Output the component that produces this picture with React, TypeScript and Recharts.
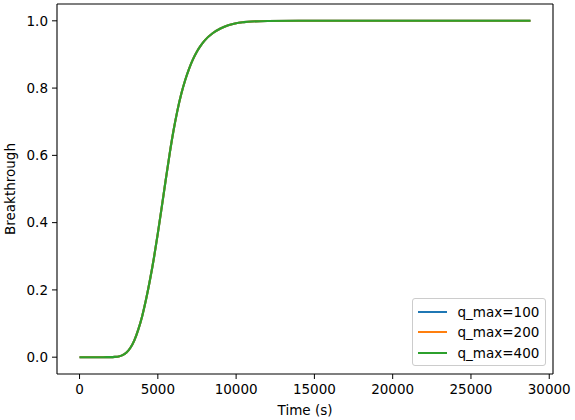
import React from 'react';
import { LineChart, Line, XAxis, YAxis, Label } from 'recharts';

// Time samples (s)
const times = [
  0, 500, 1000, 1500, 2000, 2250, 2500, 2750, 3000, 3250, 3500, 3750, 4000, 4250, 4500, 4750,
  5000, 5250, 5500, 5750, 6000, 6250, 6500, 6750, 7000, 7250, 7500, 7750, 8000, 8500, 9000,
  9500, 10000, 10500, 11000, 12000, 14000, 16000, 18000, 20000, 22000, 24000, 26000, 28000, 28800,
];

// Breakthrough; the three runs overlap completely
const q100 = [
  0, 0, 0, 0, 0.0002, 0.0008, 0.002, 0.006, 0.014, 0.028, 0.05, 0.082, 0.122, 0.172, 0.23, 0.295,
  0.368, 0.446, 0.526, 0.603, 0.673, 0.733, 0.783, 0.824, 0.858, 0.886, 0.909, 0.927, 0.942, 0.963, 0.977,
  0.987, 0.993, 0.996, 0.998, 0.9995, 1, 1, 1, 1, 1, 1, 1, 1, 1,
];
const q200 = [...q100];
const q400 = [...q100];

const xTicks = [0, 5000, 10000, 15000, 20000, 25000, 30000];
const yTicks = [0, 0.2, 0.4, 0.6, 0.8, 1.0];

const series = [
  { key: 'q100', name: 'q_max=100', color: '#1f77b4' },
  { key: 'q200', name: 'q_max=200', color: '#ff7f0e' },
  { key: 'q400', name: 'q_max=400', color: '#2ca02c' },
];

const data = times.map((t, i) => ({ t, q100: q100[i], q200: q200[i], q400: q400[i] }));

const FONT = 'DejaVu Sans, sans-serif';
const tickStyle = { fill: '#000', fontSize: 13.5, fontFamily: FONT };
const spine = { stroke: '#000', strokeWidth: 1.1 };

const LegendBox = () => (
  <div
    style={{
      position: 'absolute',
      left: 412,
      top: 298,
      border: '1px solid #cccccc',
      borderRadius: 3,
      background: 'rgba(255,255,255,0.8)',
      padding: '3px 0',
      boxSizing: 'border-box',
      width: 134,
      height: 68,
      fontFamily: FONT,
      fontSize: 13.5,
      lineHeight: '20.3px',
    }}
  >
    {series.map((s) => (
      <div key={s.key} style={{ display: 'flex', alignItems: 'center', height: 20.3 }}>
        <div style={{ width: 29, height: 2, background: s.color, marginLeft: 4.5, marginRight: 11 }} />
        <span style={{ color: '#000' }}>{s.name}</span>
      </div>
    ))}
  </div>
);

const YTitle = () => (
  <text x={15} y={189} transform="rotate(-90 15 189)" textAnchor="middle" fill="#000" fontSize={13.5} fontFamily={FONT}>
    Breakthrough
  </text>
);

const XTitle = () => (
  <text x={305} y={414.5} textAnchor="middle" fill="#000" fontSize={13.5} fontFamily={FONT}>
    Time (s)
  </text>
);

export default function App() {
  return (
    <div style={{ position: 'fixed', left: 0, top: 0, width: 575, height: 420, background: '#fff' }}>
      <LineChart width={575} height={420} data={data} margin={{ top: 3, right: 21, bottom: 0, left: 0 }}>
        <XAxis
          dataKey="t"
          type="number"
          domain={[-1440, 30240]}
          ticks={xTicks}
          height={46}
          tick={tickStyle}
          tickSize={5}
          tickMargin={5}
          axisLine={spine}
          tickLine={{ stroke: '#000' }}
          allowDataOverflow
        >
          <Label content={XTitle} />
        </XAxis>
        <XAxis xAxisId="top" orientation="top" type="number" dataKey="t" domain={[-1440, 30240]} height={1}
          tick={false} tickLine={false} axisLine={spine} allowDataOverflow />
        <YAxis
          type="number"
          domain={[-0.05, 1.05]}
          ticks={yTicks}
          width={57}
          tick={tickStyle}
          tickSize={5}
          tickMargin={4}
          tickFormatter={(v: number) => v.toFixed(1)}
          axisLine={spine}
          tickLine={{ stroke: '#000' }}
          allowDataOverflow
        >
          <Label content={YTitle} />
        </YAxis>
        <YAxis yAxisId="right" orientation="right" type="number" domain={[-0.05, 1.05]} width={1}
          tick={false} tickLine={false} axisLine={spine} allowDataOverflow />
        {series.map((s) => (
          <Line
            key={s.key}
            dataKey={s.key}
            name={s.name}
            stroke={s.color}
            strokeWidth={2.1}
            dot={false}
            type="monotone"
            isAnimationActive={false}
          />
        ))}
      </LineChart>
      <LegendBox />
    </div>
  );
}
